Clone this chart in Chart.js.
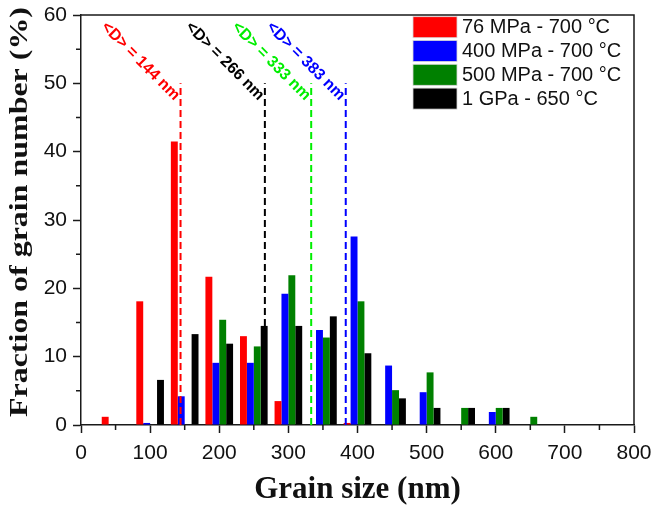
<!DOCTYPE html>
<html>
<head>
<meta charset="utf-8">
<script src="https://cdn.jsdelivr.net/npm/chart.js@4.4.1/dist/chart.umd.min.js"></script>
<style>
html,body{margin:0;padding:0;background:#fff;}
#wrap{width:654px;height:509px;position:relative;}
</style>
</head>
<body>
<div id="wrap"><canvas id="c" width="654" height="509"></canvas></div>
<script>
// ---- data ----
const binCenters = [50, 100, 150, 200, 250, 300, 350, 400, 450, 500, 550, 600, 650];
const seriesLabels = ['76 MPa - 700 °C', '400 MPa - 700 °C', '500 MPa - 700 °C', '1 GPa - 650 °C'];
const frac76MPa  = [1.2, 18.1, 41.5, 21.7, 13.0, 3.5, null, 0.3, null, null, null, null, null];
const frac400MPa = [null, 0.3, 4.2, 9.1, 9.1, 19.2, 13.9, 27.6, 8.7, 4.8, null, 1.9, null];
const frac500MPa = [null, null, null, 15.4, 11.5, 21.9, 12.8, 18.1, 5.1, 7.7, 2.5, 2.5, 1.2];
const frac1GPa   = [null, 6.6, 13.3, 11.9, 14.5, 14.5, 15.9, 10.5, 3.9, 2.5, 2.5, 2.5, null];
const meanSizes  = [144, 266, 333, 383];
const meanLabels = ['<D> = 144 nm', '<D> = 266 nm', '<D> = 333 nm', '<D> = 383 nm'];
const meanLineTop = 50;
const xTickValues = [0, 100, 200, 300, 400, 500, 600, 700, 800];
const yTickValues = [0, 10, 20, 30, 40, 50, 60];

// ---- styles ----
const barColors  = ['#ff0000', '#0000ff', '#008000', '#000000'];
const meanColors = ['#ff0000', '#000000', '#00ee00', '#0000ff'];
const AXIS = '#1a1a1a';

const seriesValues = [frac76MPa, frac400MPa, frac500MPa, frac1GPa];
const barSets = seriesValues.map((arr, i) => ({
  type: 'bar',
  label: seriesLabels[i],
  data: binCenters.map((x, j) => ({x: x, y: arr[j]})),
  backgroundColor: barColors[i],
  borderWidth: 0,
  categoryPercentage: 0.8,
  barPercentage: 1.0,
  order: 2
}));
const lineSets = meanSizes.map((d, i) => ({
  type: 'line',
  label: meanLabels[i],
  data: [{x: d, y: 0}, {x: d, y: meanLineTop}],
  borderColor: meanColors[i],
  borderWidth: 2,
  borderDash: [7, 4],
  pointRadius: 0,
  fill: false,
  order: 1
}));

const decor = {
  id: 'decor',
  afterDraw(chart) {
    const ctx = chart.ctx;
    const a = chart.chartArea;
    const xs = chart.scales.x, ys = chart.scales.y;
    ctx.save();
    // frame top/right
    ctx.strokeStyle = AXIS; ctx.lineWidth = 1.5;
    ctx.beginPath();
    ctx.moveTo(a.left, a.top); ctx.lineTo(a.right, a.top); ctx.lineTo(a.right, a.bottom);
    ctx.stroke();
    // minor ticks
    ctx.beginPath();
    for (let i = 0; i < xTickValues.length - 1; i++) {
      const px = xs.getPixelForValue((xTickValues[i] + xTickValues[i + 1]) / 2);
      ctx.moveTo(px, a.bottom); ctx.lineTo(px, a.bottom + 5);
    }
    for (let i = 0; i < yTickValues.length - 1; i++) {
      const py = ys.getPixelForValue((yTickValues[i] + yTickValues[i + 1]) / 2);
      ctx.moveTo(a.left, py); ctx.lineTo(a.left - 5, py);
    }
    ctx.stroke();
    // mean-size annotations
    ctx.font = 'bold 16px "Liberation Sans", Arial, sans-serif';
    ctx.textAlign = 'center'; ctx.textBaseline = 'middle';
    meanSizes.forEach((d, i) => {
      const px = xs.getPixelForValue(d), py = ys.getPixelForValue(meanLineTop);
      ctx.save();
      ctx.translate(px - 40, py - 22);
      ctx.rotate(Math.PI / 4);
      ctx.fillStyle = meanColors[i];
      ctx.fillText(meanLabels[i], 0, 0);
      ctx.restore();
    });
    // legend
    ctx.font = '20px "Liberation Sans", Arial, sans-serif';
    ctx.textAlign = 'left'; ctx.textBaseline = 'middle';
    seriesLabels.forEach((lab, i) => {
      const top = a.top + 1.7 + i * 23.8;
      ctx.fillStyle = barColors[i];
      ctx.fillRect(413, top, 44, 21);
      ctx.strokeStyle = '#d8d8d8'; ctx.lineWidth = 0.8;
      ctx.strokeRect(413, top, 44, 21);
      ctx.fillStyle = '#111';
      ctx.fillText(lab, 462, top + 11);
    });
    // y title (stretched along its length)
    const yTitle = 'Fraction of grain number (%)';
    ctx.font = 'bold 25px "Liberation Serif", "Times New Roman", serif';
    const w = ctx.measureText(yTitle).width;
    ctx.translate(20.6, 212);
    ctx.rotate(-Math.PI / 2);
    ctx.scale(410 / w, 1);
    ctx.fillStyle = '#111';
    ctx.textAlign = 'center'; ctx.textBaseline = 'middle';
    ctx.fillText(yTitle, 0, 0);
    ctx.restore();
  }
};

const tickFont = {family: '"Liberation Sans", Arial, sans-serif', size: 21};
const noPad = s => { s.paddingLeft = 0; s.paddingRight = 0; s.paddingTop = 0; s.paddingBottom = 0; };

new Chart(document.getElementById('c'), {
  type: 'bar',
  data: {datasets: [...barSets, ...lineSets]},
  options: {
    responsive: false,
    animation: false,
    layout: {padding: {left: 0, top: 15, right: 20, bottom: 0}},
    plugins: {legend: {display: false}, tooltip: {enabled: false}},
    scales: {
      x: {
        type: 'linear', min: 0, max: 800, offset: false,
        afterBuildTicks: s => { s.ticks = xTickValues.map(v => ({value: v})); },
        grid: {drawOnChartArea: false, drawTicks: true, tickLength: 8, tickColor: AXIS, tickWidth: 1.5, offset: false},
        border: {display: true, color: AXIS, width: 1.5},
        ticks: {font: tickFont, color: '#111', padding: 8, maxRotation: 0, autoSkip: false},
        title: {display: true, text: 'Grain size (nm)', color: '#111',
                font: {family: '"Liberation Serif", "Times New Roman", serif', size: 31, weight: 'bold'},
                padding: {top: 0, bottom: 0}},
        afterFit: s => { s.height = 84; noPad(s); }
      },
      y: {
        min: 0, max: 60,
        afterBuildTicks: s => { s.ticks = yTickValues.map(v => ({value: v})); },
        grid: {drawOnChartArea: false, drawTicks: true, tickLength: 8, tickColor: AXIS, tickWidth: 1.5},
        border: {display: true, color: AXIS, width: 1.5},
        ticks: {font: tickFont, color: '#111', padding: 6},
        title: {display: false},
        afterFit: s => { s.width = 81; noPad(s); }
      }
    }
  },
  plugins: [decor]
});
</script>
</body>
</html>
